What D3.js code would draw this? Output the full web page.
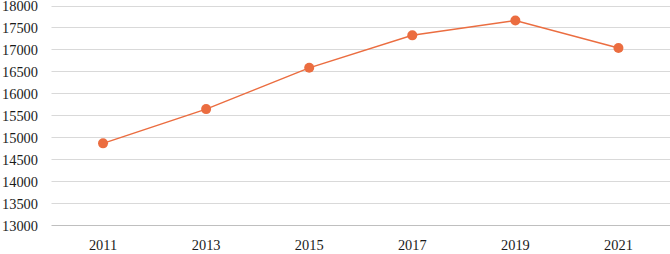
<!DOCTYPE html>
<html><head><meta charset="utf-8">
<script src="https://cdn.jsdelivr.net/npm/d3@7"></script>
<style>body{margin:0;background:#fff}svg{display:block}text{font-family:"Liberation Serif","Times New Roman",serif}</style>
</head><body>
<script>
const categories = ["2011","2013","2015","2017","2019","2021"];
const values = [14860, 15640, 16580, 17320, 17660, 17030];
const yTicks = [13000,13500,14000,14500,15000,15500,16000,16500,17000,17500,18000];

const W = 670, H = 254;
const m = {left: 51.5, right: 0, top: 5.5, bottom: 29};
const svg = d3.select("body").append("svg").attr("width", W).attr("height", H);
const x = d3.scaleBand().domain(categories).range([m.left, W - m.right]);
const y = d3.scaleLinear().domain([13000, 18000]).range([H - m.bottom, m.top]);

svg.append("g").selectAll("line").data(yTicks.slice(1)).join("line")
  .attr("x1", m.left).attr("x2", W).attr("y1", d => Math.round(y(d)) + 0.5).attr("y2", d => Math.round(y(d)) + 0.5)
  .attr("stroke", "#d9d9d9").attr("stroke-width", 1);

svg.append("line").attr("x1", m.left).attr("x2", W)
  .attr("y1", Math.round(y(13000)) + 0.5).attr("y2", Math.round(y(13000)) + 0.5)
  .attr("stroke", "#bfbfbf").attr("stroke-width", 1);

svg.append("g").selectAll("text").data(yTicks).join("text")
  .attr("x", 38).attr("y", d => y(d) + 5.5)
  .attr("text-anchor", "end").style("font-size", "14.4px").attr("fill", "#1a1a1a")
  .text(d => d);

svg.append("g").selectAll("text").data(categories).join("text")
  .attr("x", d => x(d) + x.bandwidth() / 2).attr("y", 250)
  .attr("text-anchor", "middle").style("font-size", "14.4px").attr("fill", "#1a1a1a")
  .text(d => d);

const color = "#EB6D40";
const line = d3.line().x((d, i) => x(categories[i]) + x.bandwidth() / 2).y(d => y(d));
svg.append("path").datum(values).attr("d", line).attr("fill", "none").attr("stroke", color).attr("stroke-width", 1.5);
svg.append("g").selectAll("circle").data(values).join("circle")
  .attr("cx", (d, i) => x(categories[i]) + x.bandwidth() / 2).attr("cy", d => y(d)).attr("r", 5)
  .attr("fill", color);
</script>
</body></html>
